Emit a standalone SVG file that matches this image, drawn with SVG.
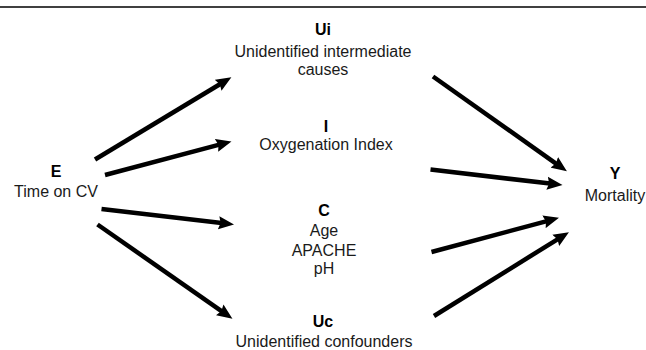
<svg xmlns="http://www.w3.org/2000/svg" width="646" height="350" viewBox="0 0 646 350">
  <style>
    .lbl { font-family: "Liberation Sans", Arial, sans-serif; font-size: 16px; fill: #1a1a1a; text-anchor: middle; }
    .key { font-family: "Liberation Sans", Arial, sans-serif; font-size: 16px; font-weight: bold; fill: #000; text-anchor: middle; }
    .conn { stroke: #000; stroke-width: 4.5; fill: none; stroke-linecap: butt; marker-end: url(#arrow); }
  </style>
  <defs>
    <marker id="arrow" markerUnits="userSpaceOnUse" markerWidth="16" markerHeight="14" refX="3" refY="7" orient="auto" viewBox="0 0 16 14">
      <path d="M0,0.5 L15.5,7 L0,13.5 L2,7 z" fill="#000"/>
    </marker>
  </defs>
  <rect x="0" y="0" width="646" height="350" fill="#fff"/>
  <line x1="0" y1="7" x2="646" y2="7" stroke="#000" stroke-width="1.5"/>

  <g id="connectors">
    <line class="conn" x1="95" y1="159.5" x2="220.7" y2="83.7"/>
    <line class="conn" x1="105" y1="175" x2="219.4" y2="144.6"/>
    <line class="conn" x1="101.5" y1="209" x2="221.6" y2="223.1"/>
    <line class="conn" x1="97.5" y1="224.5" x2="222.2" y2="311.6"/>
    <line class="conn" x1="433" y1="76.5" x2="556.7" y2="164.1"/>
    <line class="conn" x1="430.5" y1="169.5" x2="550.1" y2="183.6"/>
    <line class="conn" x1="431.5" y1="252" x2="546.9" y2="221.1"/>
    <line class="conn" x1="434" y1="316" x2="558.3" y2="238.8"/>
  </g>

  <g id="node-E">
    <text class="key" x="56" y="177">E</text>
    <text class="lbl" x="56" y="197">Time on CV</text>
  </g>
  <g id="node-Ui">
    <text class="key" x="323" y="35">Ui</text>
    <text class="lbl" x="323" y="57">Unidentified intermediate</text>
    <text class="lbl" x="323" y="75">causes</text>
  </g>
  <g id="node-I">
    <text class="key" x="326" y="132">I</text>
    <text class="lbl" x="326" y="150">Oxygenation Index</text>
  </g>
  <g id="node-C">
    <text class="key" x="324" y="216">C</text>
    <text class="lbl" x="324" y="236">Age</text>
    <text class="lbl" x="324" y="255.5">APACHE</text>
    <text class="lbl" x="324" y="274">pH</text>
  </g>
  <g id="node-Uc">
    <text class="key" x="323" y="327">Uc</text>
    <text class="lbl" x="324" y="346.5">Unidentified confounders</text>
  </g>
  <g id="node-Y">
    <text class="key" x="615" y="179">Y</text>
    <text class="lbl" x="615" y="201">Mortality</text>
  </g>
</svg>
